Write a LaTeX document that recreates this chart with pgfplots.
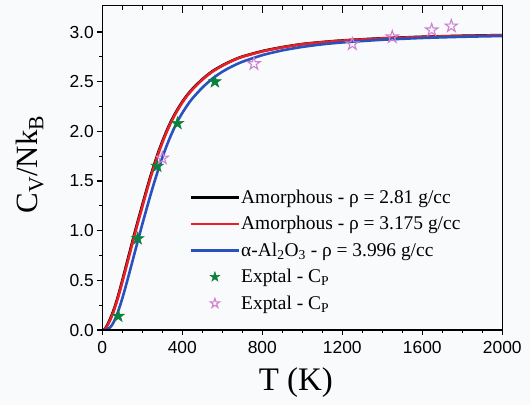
\documentclass[border=0pt]{standalone}
\usepackage{fontspec}
\setmainfont{Liberation Serif}
\newfontfamily\sansf{Liberation Sans}
\usepackage{pgfplots}
\usepackage{pgfplotstable}
\pgfplotsset{compat=1.18}
\definecolor{bgc}{RGB}{249,250,252}
\definecolor{cred}{RGB}{232,32,38}
\definecolor{cblue}{RGB}{40,82,190}
\definecolor{cgreen}{RGB}{10,130,60}
\definecolor{cpink}{RGB}{205,130,210}

\def\starpath{%
  \pgfpathmoveto{\pgfpoint{0pt}{1\pgfplotmarksize}}%
  \pgfpathlineto{\pgfpoint{-0.2245\pgfplotmarksize}{0.309\pgfplotmarksize}}%
  \pgfpathlineto{\pgfpoint{-0.951\pgfplotmarksize}{0.309\pgfplotmarksize}}%
  \pgfpathlineto{\pgfpoint{-0.3633\pgfplotmarksize}{-0.118\pgfplotmarksize}}%
  \pgfpathlineto{\pgfpoint{-0.588\pgfplotmarksize}{-0.809\pgfplotmarksize}}%
  \pgfpathlineto{\pgfpoint{0pt}{-0.382\pgfplotmarksize}}%
  \pgfpathlineto{\pgfpoint{0.588\pgfplotmarksize}{-0.809\pgfplotmarksize}}%
  \pgfpathlineto{\pgfpoint{0.3633\pgfplotmarksize}{-0.118\pgfplotmarksize}}%
  \pgfpathlineto{\pgfpoint{0.951\pgfplotmarksize}{0.309\pgfplotmarksize}}%
  \pgfpathlineto{\pgfpoint{0.2245\pgfplotmarksize}{0.309\pgfplotmarksize}}%
  \pgfpathclose}
\pgfdeclareplotmark{fivestarfill}{\starpath\pgfusepathqfillstroke}
\pgfdeclareplotmark{fivestaropen}{\starpath\pgfusepathqstroke}

\pgfplotstableread{
T v
0 0
10 0.006
20 0.033
30 0.072
40 0.115
50 0.165
60 0.221
70 0.283
80 0.351
90 0.424
100 0.500
120 0.655
140 0.810
160 0.965
180 1.114
200 1.259
220 1.403
240 1.542
260 1.670
280 1.790
300 1.898
320 1.997
340 2.086
360 2.165
380 2.234
400 2.298
425 2.367
450 2.426
500 2.525
550 2.605
600 2.664
650 2.713
700 2.753
800 2.808
900 2.848
1000 2.879
1100 2.899
1200 2.915
1400 2.937
1600 2.952
1800 2.962
2000 2.969
}\blacktab

\pgfplotstableread{
T v
0 0
10 0.004
20 0.026
30 0.062
40 0.103
50 0.152
60 0.207
70 0.268
80 0.335
90 0.408
100 0.483
120 0.635
140 0.790
160 0.945
180 1.095
200 1.240
220 1.385
240 1.525
260 1.655
280 1.775
300 1.885
320 1.985
340 2.075
360 2.155
380 2.225
400 2.290
425 2.360
450 2.420
500 2.520
550 2.600
600 2.660
650 2.710
700 2.750
800 2.805
900 2.845
1000 2.877
1100 2.897
1200 2.913
1400 2.935
1600 2.950
1800 2.960
2000 2.967
}\redtab

\pgfplotstableread{
T v
0 0
10 0.001
20 0.005
30 0.013
40 0.028
50 0.055
60 0.092
70 0.138
80 0.192
90 0.253
100 0.318
110 0.388
120 0.460
140 0.610
160 0.763
180 0.915
200 1.065
220 1.210
240 1.352
260 1.488
280 1.615
300 1.735
320 1.845
340 1.945
360 2.035
380 2.115
400 2.185
425 2.262
450 2.330
500 2.440
550 2.530
600 2.600
650 2.655
700 2.700
800 2.767
900 2.815
1000 2.850
1100 2.876
1200 2.895
1400 2.922
1600 2.940
1800 2.952
2000 2.960
}\bluetab

\pgfplotstableread{
T v
80 0.14
177 0.92
275 1.65
376 2.08
563 2.50
}\greentab

\pgfplotstableread{
T v
300 1.73
758 2.68
1250 2.88
1450 2.95
1647 3.02
1745 3.06
}\pinktab

\begin{document}
\begin{tikzpicture}
\fill[bgc] (0bp,0bp) rectangle (530bp,405bp);
\path[use as bounding box] (0bp,0bp) rectangle (530bp,405bp);
\begin{axis}[
  at={(102.3bp,75bp)}, anchor=south west,
  scale only axis, width=400bp, height=324.3bp,
  xmin=0, xmax=2000, ymin=0, ymax=3.265,
  xtick={0,400,...,2000}, minor x tick num=3,
  ytick={0,0.5,1,1.5,2,2.5,3}, minor y tick num=1,
  xtick pos=bottom, ytick pos=left,
  tick align=outside,
  major tick length=5bp, minor tick length=3bp,
  every tick/.style={black, line width=1.1bp},
  axis line style={line width=1.5bp},
  /pgf/number format/assume math mode=true,
  xticklabel style={font=\sansf\fontsize{17.5}{17.5}\selectfont, /pgf/number format/.cd, fixed, 1000 sep={}},
  yticklabel style={font=\sansf\fontsize{17.5}{17.5}\selectfont, /pgf/number format/.cd, fixed, fixed zerofill, precision=1},
  xticklabel shift=3bp,
  xlabel={T (K)},
  xlabel style={font=\fontsize{33}{33}\selectfont, at={(axis description cs:0.484,-0.163)}, anchor=center},
  ylabel={C\textsubscript{V}/Nk\textsubscript{B}},
  ylabel style={font=\fontsize{31}{31}\selectfont, at={(axis description cs:-0.181,0.51)}, anchor=center},
  legend style={at={(0.219,0.437)}, anchor=north west, draw=none, fill=none,
    font=\fontsize{19.5}{21}\selectfont, row sep=8.5bp, inner sep=0pt,
    nodes={inner sep=1.5bp}},
  legend cell align=left,
  legend image code/.code={\draw[mark repeat=2,mark phase=2,#1] plot coordinates {(0bp,0bp) (23.5bp,0bp) (47bp,0bp)};},
]
\addplot[black, line width=2.6bp, smooth, tension=0.4] table[x=T,y=v] {\blacktab};
\addlegendentry{Amorphous - ρ = 2.81 g/cc}
\addplot[cred, line width=2.6bp, smooth, tension=0.4] table[x=T,y=v] {\redtab};
\addlegendentry{Amorphous - ρ = 3.175 g/cc}
\addplot[cblue, line width=2.6bp, smooth, tension=0.4] table[x=T,y=v] {\bluetab};
\addlegendentry{α-Al\textsubscript{2}O\textsubscript{3} - ρ = 3.996 g/cc}
\addplot[only marks, mark=fivestarfill, mark size=6.5bp, draw=cgreen, fill=cgreen, line width=0.6bp, mark options={line join=miter}, legend image post style={mark size=5bp}] table[x=T,y=v] {\greentab};
\addlegendentry{Exptal - C\textsubscript{P}}
\addplot[only marks, mark=fivestaropen, mark size=6.5bp, draw=cpink, line width=1.1bp, mark options={line join=miter}, legend image post style={mark size=5bp}] table[x=T,y=v] {\pinktab};
\addlegendentry{Exptal - C\textsubscript{P}}
\end{axis}
\begin{axis}[
  at={(102.3bp,75bp)}, anchor=south west,
  scale only axis, width=400bp, height=324.3bp,
  xmin=0, xmax=2000, ymin=0, ymax=3.265,
  xtick={0,400,...,2000}, minor x tick num=3,
  xtick pos=top, ytick=\empty, xticklabels={},
  tick align=inside,
  major tick length=7bp, minor tick length=4.5bp,
  every tick/.style={black, line width=1.1bp},
  axis line style={line width=1.5bp},
]
\end{axis}
\end{tikzpicture}
\end{document}
